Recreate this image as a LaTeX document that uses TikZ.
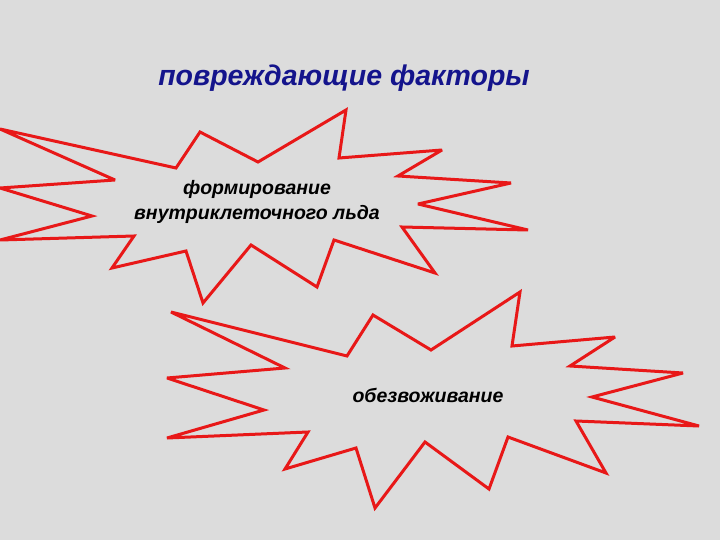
\documentclass[tikz,border=0pt]{standalone}
\usepackage{fontspec}
\setmainfont{Liberation Sans}
\usetikzlibrary{positioning}

\definecolor{slidegray}{RGB}{220,220,220}
\definecolor{burstred}{RGB}{232,24,24}
\definecolor{titleblue}{RGB}{20,20,140}

\begin{document}
\begin{tikzpicture}[
    x=1pt, y=-1pt,
    burst/.style={draw=burstred, line width=3pt, line join=miter, miter limit=4},
    titletext/.style={text=titleblue, font=\fontsize{28.5}{34}\selectfont\bfseries\itshape},
    bursttext/.style={text=black, align=center, font=\fontsize{19.5}{25}\selectfont\bfseries\itshape}
]

% Background
\fill[slidegray] (0,0) rectangle (720,540);
\useasboundingbox (0,0) rectangle (720,540);

% Title
\node[titletext] (title) at (344,78) {повреждающие факторы};

% Upper burst
\draw[burst] (0,129) -- (176,168) -- (200,132) -- (258,162) -- (346,110) -- (339,158)
    -- (442,150) -- (398,176) -- (511,183) -- (418,204) -- (528,230) -- (402,227)
    -- (435,273) -- (334,240) -- (317,287) -- (251,245) -- (203,303) -- (186,251)
    -- (112,268) -- (134,236) -- (0,240) -- (92,216) -- (0,188) -- (115,180) -- cycle;

% Lower burst
\draw[burst] (171,312) -- (347,356) -- (373,315) -- (431,350) -- (520,292) -- (512,346)
    -- (615,337) -- (570,366) -- (683,373) -- (592,397) -- (699,426) -- (576,421)
    -- (606,473) -- (508,437) -- (489,489) -- (425,442) -- (375,508) -- (356,448)
    -- (285,469) -- (308,432) -- (167,438) -- (264,410) -- (167,378) -- (285,368) -- cycle;

% Labels
\node[bursttext] (ice) at (257,202) {формирование\\внутриклеточного льда};
\node[bursttext] (dry) at (428,395) {обезвоживание};

\end{tikzpicture}
\end{document}
